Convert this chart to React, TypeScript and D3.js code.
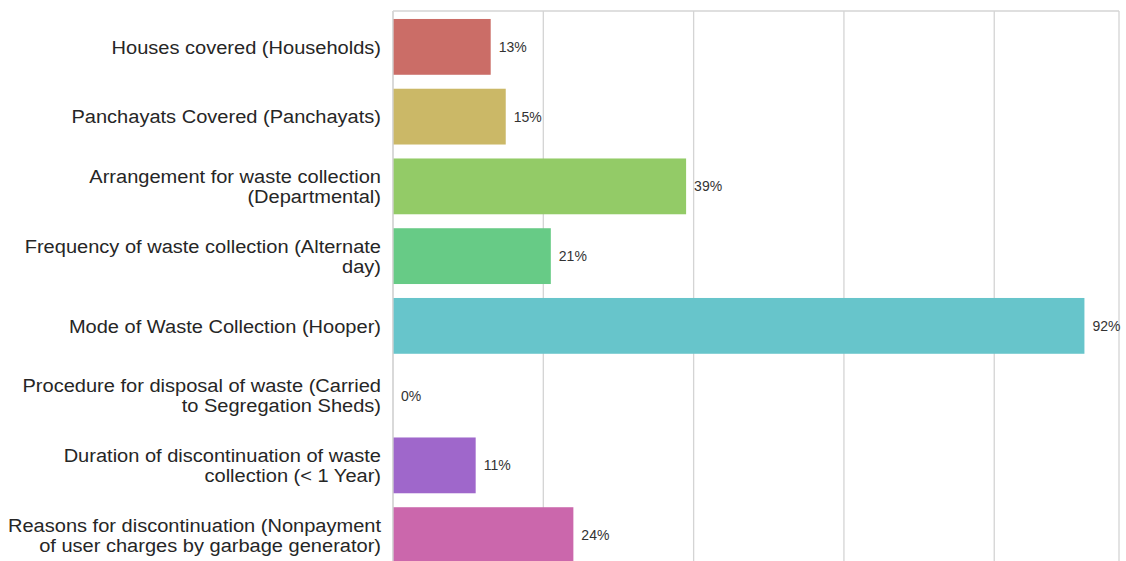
import React from "react";
import * as d3 from "d3";

const categories: string[][] = [
  ["Houses covered (Households)"],
  ["Panchayats Covered (Panchayats)"],
  ["Arrangement for waste collection", "(Departmental)"],
  ["Frequency of waste collection (Alternate", "day)"],
  ["Mode of Waste Collection (Hooper)"],
  ["Procedure for disposal of waste (Carried", "to Segregation Sheds)"],
  ["Duration of discontinuation of waste", "collection (< 1 Year)"],
  ["Reasons for discontinuation (Nonpayment", "of user charges by garbage generator)"],
];
const values: number[] = [13, 15, 39, 21, 92, 0, 11, 24];
const gridTicks: number[] = [0, 20, 40, 60, 80];

const W = 1126;
const H = 561;
const left = 393;
const right = 1119;
const top = 11;
const bottom = 570;

export default function App() {
  const x = d3.scaleLinear().domain([0, 92 * 1.05]).range([left, right]);
  const y = d3
    .scaleBand<number>()
    .domain(d3.range(values.length))
    .range([top + 1, bottom])
    .paddingInner(0.2)
    .paddingOuter(0.1);
  const colors = values.map((_, i) => {
    const h = (0.01 + i / values.length) * 360;
    return d3.hsl(h, 0.65 * 0.75, 0.6).formatHex();
  });
  const grid = "#d4d4d4";
  return (
    <svg
      width={W}
      height={H}
      style={{ position: "absolute", left: 0, top: 0, background: "#fff" }}
      fontFamily="'Liberation Sans', Arial, sans-serif"
    >
      <rect x={0} y={0} width={W} height={H} fill="#fff" />
      {gridTicks.map((t) => (
        <line key={t} x1={x(t)} x2={x(t)} y1={top} y2={bottom} stroke={grid} strokeWidth={1.3} />
      ))}
      {values.map((v, i) => (
        <rect
          key={i}
          x={x(0)}
          y={y(i)!}
          width={x(v) - x(0)}
          height={y.bandwidth()}
          fill={colors[i]}
        />
      ))}
      {/* spines */}
      <line x1={left} x2={left} y1={top} y2={bottom} stroke={grid} strokeWidth={1.3} />
      <line x1={right} x2={right} y1={top} y2={bottom} stroke={grid} strokeWidth={1.3} />
      <line x1={left} x2={right} y1={top} y2={top} stroke={grid} strokeWidth={1.3} />
      {values.map((v, i) => (
        <text
          key={"v" + i}
          x={x(v) + 8}
          y={y(i)! + y.bandwidth() / 2}
          dy="0.35em"
          fontSize={14}
          fill="#333"
        >
          {v + "%"}
        </text>
      ))}
      {categories.map((lines, i) => {
        const cy = y(i)! + y.bandwidth() / 2;
        const lh = 20;
        const start = cy - ((lines.length - 1) * lh) / 2;
        return (
          <g key={"c" + i} transform={`translate(381,0) scale(1.055,1)`}>
            <text textAnchor="end" fontSize={19} fill="#262626">
              {lines.map((l, j) => (
                <tspan key={j} x={0} y={start + j * lh} dy="0.35em">
                  {l}
                </tspan>
              ))}
            </text>
          </g>
        );
      })}
    </svg>
  );
}
